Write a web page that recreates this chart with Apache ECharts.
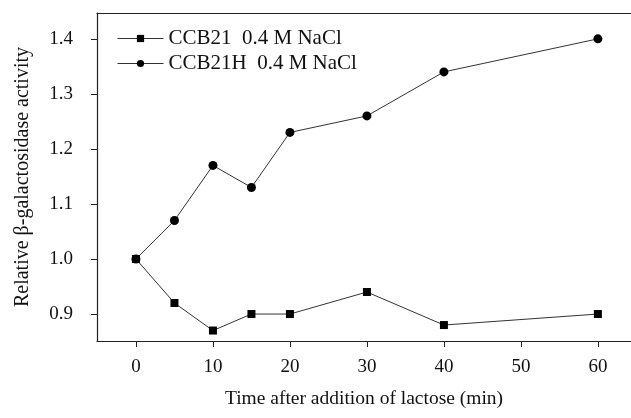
<!DOCTYPE html>
<html>
<head>
<meta charset="utf-8">
<script src="https://cdn.jsdelivr.net/npm/echarts@6/dist/echarts.min.js"></script>
<style>
  html, body { margin: 0; padding: 0; background: #fff; }
  #chart { width: 631px; height: 418px; }
</style>
</head>
<body>
<div id="chart"></div>
<script>
// time points (min)
const timeCCB21 = [0, 5, 10, 15, 20, 30, 40, 60];
const timeCCB21H = [0, 5, 10, 15, 20, 30, 40, 60];
// relative activity
const valCCB21 = [1.0, 0.92, 0.87, 0.9, 0.9, 0.94, 0.88, 0.9];
const valCCB21H = [1.0, 1.07, 1.17, 1.13, 1.23, 1.26, 1.34, 1.4];
// tick labels
const xTicks = [0, 10, 20, 30, 40, 50, 60];
const yTicks = [0.9, 1.0, 1.1, 1.2, 1.3, 1.4];

const names = ["CCB21  0.4 M NaCl", "CCB21H  0.4 M NaCl"];
const font = "'Liberation Serif', 'Times New Roman', serif";

const toPairs = (xs, ys) => xs.map((x, i) => [x, ys[i]]);

const chart = echarts.init(document.getElementById("chart"));
const option = {
  backgroundColor: "#fff",
  animation: false,
  textStyle: { fontFamily: font, color: "#111" },
  grid: { left: 97, right: 0, top: 13, bottom: 77 },
  legend: {
    orient: "vertical",
    left: 117,
    top: 28,
    padding: 0,
    itemWidth: 46,
    itemHeight: 9,
    itemGap: 4,
    lineStyle: { width: 1 },
    textStyle: { fontFamily: font, fontSize: 21, lineHeight: 21, color: "#111" },
    data: names,
  },
  xAxis: [
    {
      type: "value",
      min: -5.06,
      max: 64.3,
      name: "Time after addition of lactose (min)",
      nameLocation: "middle",
      nameGap: 48,
      nameTextStyle: { fontFamily: font, fontSize: 19.5, color: "#111" },
      axisLine: { onZero: false, lineStyle: { color: "#222", width: 1.2 } },
      axisTick: { customValues: xTicks, length: 6, lineStyle: { color: "#222" } },
      axisLabel: {
        customValues: xTicks,
        margin: 17,
        fontFamily: font,
        fontSize: 19,
        color: "#111",
      },
      splitLine: { show: false },
    },
    {
      type: "value",
      position: "top",
      min: -5.06,
      max: 64.3,
      axisLine: { show: true, onZero: false, lineStyle: { color: "#222", width: 1.2 } },
      axisTick: { show: false },
      axisLabel: { show: false },
      splitLine: { show: false },
    },
  ],
  yAxis: {
    type: "value",
    min: 0.851,
    max: 1.447,
    name: "Relative β-galactosidase activity",
    nameLocation: "middle",
    nameGap: 64,
    nameTextStyle: { fontFamily: font, fontSize: 20, color: "#111" },
    axisLine: { show: true, onZero: false, lineStyle: { color: "#222", width: 1.2 } },
    axisTick: { show: true, customValues: yTicks, length: 6, lineStyle: { color: "#222" } },
    axisLabel: {
      customValues: yTicks,
      margin: 24,
      fontFamily: font,
      fontSize: 19,
      color: "#111",
      formatter: (v) => v.toFixed(1),
    },
    splitLine: { show: false },
  },
  series: [
    {
      name: names[0],
      type: "line",
      symbol: "rect",
      symbolSize: 8,
      itemStyle: { color: "#000" },
      lineStyle: { color: "#333", width: 1 },
      data: toPairs(timeCCB21, valCCB21),
    },
    {
      name: names[1],
      type: "line",
      symbol: "circle",
      symbolSize: 9,
      itemStyle: { color: "#000" },
      lineStyle: { color: "#333", width: 1 },
      data: toPairs(timeCCB21H, valCCB21H),
    },
  ],
};
chart.setOption(option);
</script>
</body>
</html>
